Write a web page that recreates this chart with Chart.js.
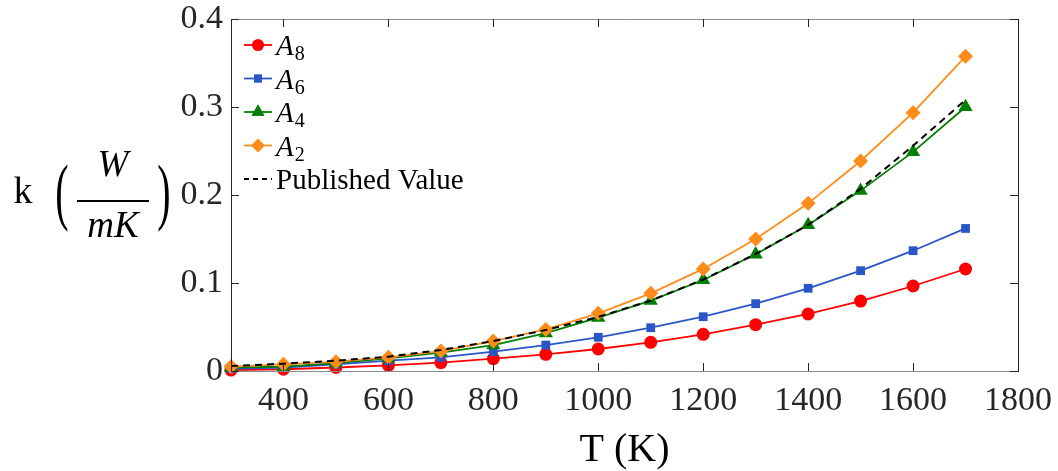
<!DOCTYPE html>
<html>
<head>
<meta charset="utf-8">
<script src="https://cdn.jsdelivr.net/npm/chart.js@4/dist/chart.umd.min.js"></script>
<style>
  html, body { margin: 0; padding: 0; background: #fff; }
  #wrap { width: 1058px; height: 471px; }
</style>
</head>
<body>
<div id="wrap"><canvas id="myChart" width="1058" height="471"></canvas></div>
<script>
// datos
const temps = [300, 400, 500, 600, 700, 800, 900, 1000, 1100, 1200, 1300, 1400, 1500, 1600, 1700];
const a8 = [0.001, 0.002, 0.004, 0.0065, 0.0095, 0.014, 0.019, 0.025, 0.0326, 0.0417, 0.0526, 0.0648, 0.0795, 0.0966, 0.1159];
const a6 = [0.0025, 0.004, 0.0076, 0.0117, 0.0155, 0.022, 0.0295, 0.0383, 0.0492, 0.0617, 0.0765, 0.094, 0.114, 0.1367, 0.162];
const a4 = [0.004, 0.005, 0.009, 0.0144, 0.021, 0.0295, 0.043, 0.0606, 0.0799, 0.1034, 0.1326, 0.166, 0.205, 0.249, 0.300];
const a2 = [0.005, 0.0076, 0.0106, 0.0155, 0.0227, 0.034, 0.0473, 0.0655, 0.0883, 0.116, 0.150, 0.1905, 0.2386, 0.2935, 0.3576];
const published = [0.0057, 0.0083, 0.0117, 0.0163, 0.0239, 0.034, 0.0466, 0.0615, 0.080, 0.104, 0.133, 0.166, 0.207, 0.256, 0.308];

const xTicks = [400, 600, 800, 1000, 1200, 1400, 1600, 1800];
const yTicks = [0, 0.1, 0.2, 0.3, 0.4];

const red = '#ff0000';
const blue = '#2b56c8';
const green = '#007f00';
const orange = '#ff8c1a';
const serif = '"Liberation Serif", "DejaVu Serif", serif';

const toPts = arr => arr.map((v, i) => ({ x: temps[i], y: v }));

const series = [
  { label: 'A', sub: '8', data: a8, color: red, style: 'circle', r: 6.5, order: 4 },
  { label: 'A', sub: '6', data: a6, color: blue, style: 'rect', r: 6.2, order: 3 },
  { label: 'A', sub: '4', data: a4, color: green, style: 'triangle', r: 8.2, order: 2 },
  { label: 'A', sub: '2', data: a2, color: orange, style: 'rectRot', r: 7.5, order: 1 },
];

const datasets = series.map(s => ({
  label: s.label + s.sub,
  data: toPts(s.data),
  borderColor: s.color,
  backgroundColor: s.color,
  borderWidth: 1.8,
  pointStyle: s.style,
  pointRadius: s.r,
  pointBorderWidth: 0,
  tension: 0,
  order: s.order,
  clip: false
}));
datasets.push({
  label: 'Published Value',
  data: toPts(published),
  borderColor: '#000',
  borderWidth: 2,
  borderDash: [7, 5],
  pointRadius: 0,
  tension: 0,
  order: 0,
  clip: false
});

// caja, ticks hacia adentro, leyenda y titulos
const decoPlugin = {
  id: 'deco',
  afterDraw(chart) {
    const ctx = chart.ctx;
    const a = chart.chartArea;
    const xs = chart.scales.x, ys = chart.scales.y;
    const tl = 8;
    ctx.save();
    // caja
    ctx.lineWidth = 1;
    ctx.strokeStyle = '#8c8c8c';
    ctx.beginPath();
    ctx.moveTo(a.left, a.top + 0.5); ctx.lineTo(a.right, a.top + 0.5);
    ctx.moveTo(a.left, a.bottom + 0.5); ctx.lineTo(a.right, a.bottom + 0.5);
    ctx.stroke();
    ctx.strokeStyle = '#262626';
    ctx.beginPath();
    ctx.moveTo(a.left + 0.5, a.top); ctx.lineTo(a.left + 0.5, a.bottom + 1);
    ctx.moveTo(a.right + 0.5, a.top); ctx.lineTo(a.right + 0.5, a.bottom + 1);
    xTicks.forEach(t => {
      const px = Math.round(xs.getPixelForValue(t)) + 0.5;
      ctx.moveTo(px, a.bottom); ctx.lineTo(px, a.bottom - tl);
      ctx.moveTo(px, a.top); ctx.lineTo(px, a.top + tl);
    });
    yTicks.forEach(t => {
      const py = Math.round(ys.getPixelForValue(t)) + 0.5;
      ctx.moveTo(a.left, py); ctx.lineTo(a.left + tl, py);
      ctx.moveTo(a.right, py); ctx.lineTo(a.right - tl, py);
    });
    ctx.stroke();

    // leyenda
    const lx0 = 244, lx1 = 272, mx = 258, tx = 276;
    let ly = 45;
    const step = 33.5;
    ctx.textBaseline = 'alphabetic';
    ctx.fillStyle = '#000';
    series.forEach(s => {
      ctx.strokeStyle = s.color;
      ctx.lineWidth = 1.8;
      ctx.setLineDash([]);
      ctx.beginPath();
      ctx.moveTo(lx0, ly); ctx.lineTo(lx1, ly);
      ctx.stroke();
      ctx.fillStyle = s.color;
      Chart.helpers.drawPoint(ctx, { pointStyle: s.style, radius: s.r * 0.9, borderWidth: 0, rotation: 0 }, mx, ly);
      ctx.fill();
      ctx.fillStyle = '#000';
      ctx.font = 'italic 29px ' + serif;
      ctx.fillText(s.label, tx, ly + 10);
      const w = ctx.measureText(s.label).width;
      ctx.font = '20px ' + serif;
      ctx.fillText(s.sub, tx + w + 1, ly + 15);
      ly += step;
    });
    ctx.strokeStyle = '#000';
    ctx.lineWidth = 2;
    ctx.setLineDash([5, 4]);
    ctx.beginPath();
    ctx.moveTo(lx0, ly); ctx.lineTo(lx1, ly);
    ctx.stroke();
    ctx.setLineDash([]);
    ctx.font = '29px ' + serif;
    ctx.fillText('Published Value', tx, ly + 10);

    // titulo eje x
    ctx.textAlign = 'center';
    ctx.font = '40px ' + serif;
    ctx.fillText('T (K)', (a.left + a.right) / 2, 461);

    // titulo eje y: k (W / mK)
    ctx.font = '38px ' + serif;
    ctx.fillText('k', 23, 203);
    ctx.save();
    ctx.font = '40px ' + serif;
    ctx.translate(62, 216);
    ctx.scale(1, 1.85);
    ctx.fillText('(', 0, 0);
    ctx.restore();
    ctx.save();
    ctx.font = '40px ' + serif;
    ctx.translate(164, 216);
    ctx.scale(1, 1.85);
    ctx.fillText(')', 0, 0);
    ctx.restore();
    ctx.font = 'italic 37px ' + serif;
    ctx.fillText('W', 113, 176);
    ctx.fillText('mK', 113, 237);
    ctx.fillRect(77, 200, 72, 2);
    ctx.restore();
  }
};

const noPad = s => { s.paddingLeft = 0; s.paddingRight = 0; s.paddingTop = 0; s.paddingBottom = 0; };

const cdx = document.getElementById('myChart');
new Chart(cdx, {
  type: 'line',
  data: { datasets: datasets },
  options: {
    responsive: false,
    animation: false,
    events: [],
    layout: { padding: { left: 0, right: 40, top: 19, bottom: 0 } },
    scales: {
      x: {
        type: 'linear',
        min: 300,
        max: 1800,
        afterBuildTicks: s => { s.ticks = xTicks.map(v => ({ value: v })); },
        afterFit: s => { s.height = 100; noPad(s); },
        grid: { display: false, drawTicks: false },
        border: { display: false },
        ticks: {
          color: '#262626',
          font: { family: serif, size: 34 },
          padding: 10,
          maxRotation: 0,
          autoSkip: false,
          callback: v => String(v)
        }
      },
      y: {
        type: 'linear',
        min: 0,
        max: 0.4,
        afterBuildTicks: s => { s.ticks = yTicks.map(v => ({ value: v })); },
        afterFit: s => { s.width = 231; noPad(s); },
        grid: { display: false, drawTicks: false },
        border: { display: false },
        ticks: {
          color: '#262626',
          font: { family: serif, size: 34 },
          padding: 8,
          callback: v => v === 0 ? '0' : v.toFixed(1)
        }
      }
    },
    plugins: {
      legend: { display: false },
      tooltip: { enabled: false }
    }
  },
  plugins: [decoPlugin]
});
</script>
</body>
</html>
